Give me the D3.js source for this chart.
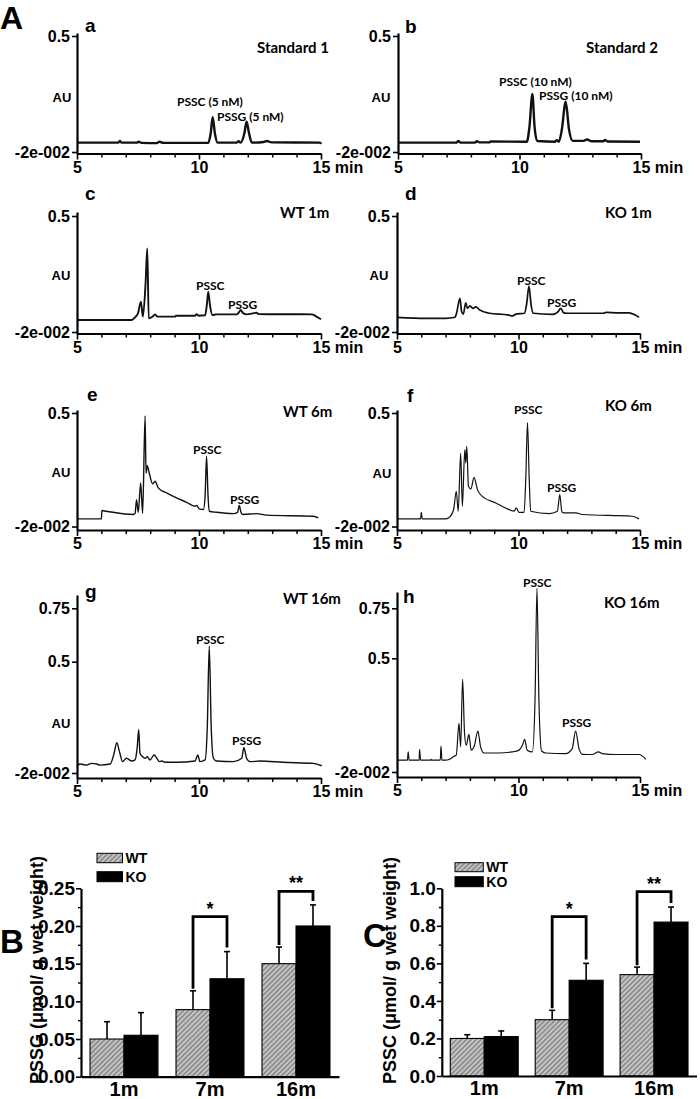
<!DOCTYPE html>
<html>
<head>
<meta charset="utf-8">
<script src="https://cdn.jsdelivr.net/npm/d3@7"></script>
<style>
  body { margin: 0; background: #fff; }
  svg { display: block; }
</style>
</head>
<body>
<div id="fig"></div>
<script>
//Chromatogram traces, [time (min), absorbance (AU)]
const traceA = [[5.0,0.022],[6.69,0.022],[6.76,0.029],[6.83,0.022],[7.45,0.022],[7.52,0.026],[7.65,0.021],[8.27,0.02],[8.38,0.026],[8.54,0.021],[10.38,0.021],[10.48,0.064],[10.56,0.136],[10.65,0.064],[10.76,0.022],[11.54,0.022],[11.62,0.028],[11.7,0.022],[11.86,0.064],[11.95,0.116],[12.05,0.064],[12.17,0.022],[12.64,0.025],[12.78,0.029],[12.98,0.023],[14.96,0.022],[15.0,0.016]];
const traceB = [[5.0,0.022],[7.41,0.022],[7.48,0.029],[7.58,0.022],[8.17,0.022],[8.24,0.028],[8.35,0.023],[8.76,0.023],[8.81,0.027],[10.3,0.026],[10.41,0.093],[10.53,0.24],[10.62,0.093],[10.73,0.029],[11.46,0.026],[11.53,0.033],[11.62,0.026],[11.74,0.079],[11.9,0.205],[12.04,0.079],[12.19,0.03],[12.63,0.03],[12.79,0.036],[12.97,0.028],[13.45,0.028],[13.52,0.034],[13.62,0.027],[14.96,0.026]];
const traceC = [[5.0,0.034],[7.24,0.034],[7.38,0.046],[7.5,0.064],[7.62,0.116],[7.7,0.049],[7.81,0.198],[7.88,0.355],[7.94,0.041],[8.1,0.049],[8.2,0.059],[8.3,0.049],[9.02,0.049],[9.06,0.053],[9.84,0.053],[9.9,0.06],[9.98,0.053],[10.25,0.055],[10.32,0.1],[10.38,0.161],[10.45,0.1],[10.55,0.056],[10.7,0.059],[11.55,0.059],[11.65,0.07],[11.71,0.079],[11.8,0.065],[11.95,0.059],[12.36,0.066],[12.45,0.06],[14.62,0.059],[14.8,0.05],[15.0,0.037]];
const traceD = [[5.0,0.046],[6.2,0.041],[7.0,0.041],[7.39,0.046],[7.45,0.064],[7.59,0.131],[7.66,0.071],[7.73,0.06],[7.83,0.111],[7.9,0.086],[8.0,0.097],[8.13,0.086],[8.24,0.093],[8.4,0.079],[8.8,0.064],[9.6,0.056],[9.75,0.052],[9.9,0.06],[10.25,0.064],[10.34,0.11],[10.43,0.186],[10.52,0.1],[10.6,0.064],[11.4,0.059],[11.62,0.07],[11.74,0.086],[11.86,0.066],[12.0,0.064],[13.5,0.064],[13.6,0.068],[14.1,0.066],[14.55,0.066],[14.8,0.056],[14.96,0.046]];
const traceE = [[5.0,0.015],[6.0,0.015],[6.02,0.053],[6.2,0.05],[7.31,0.035],[7.38,0.04],[7.44,0.103],[7.51,0.045],[7.61,0.18],[7.69,0.04],[7.79,0.487],[7.83,0.225],[7.88,0.259],[7.96,0.225],[8.1,0.176],[8.2,0.187],[8.33,0.157],[8.67,0.134],[9.08,0.111],[9.49,0.091],[9.83,0.073],[9.9,0.076],[10.01,0.061],[10.18,0.058],[10.25,0.12],[10.31,0.301],[10.37,0.12],[10.42,0.05],[10.72,0.045],[11.41,0.039],[11.58,0.045],[11.65,0.076],[11.72,0.045],[11.79,0.035],[12.36,0.039],[12.77,0.032],[14.69,0.027],[14.89,0.02]];
const traceF = [[5.0,0.015],[5.97,0.015],[6.0,0.045],[6.04,0.015],[7.0,0.015],[7.13,0.02],[7.33,0.058],[7.44,0.141],[7.52,0.05],[7.62,0.316],[7.69,0.073],[7.79,0.332],[7.83,0.271],[7.87,0.347],[7.94,0.164],[8.04,0.152],[8.17,0.205],[8.31,0.149],[8.51,0.118],[9.06,0.088],[9.47,0.065],[9.82,0.05],[9.91,0.065],[10.02,0.045],[10.23,0.045],[10.3,0.2],[10.37,0.456],[10.44,0.2],[10.5,0.05],[11.26,0.039],[11.6,0.05],[11.7,0.126],[11.78,0.05],[11.84,0.042],[12.36,0.042],[12.63,0.035],[14.69,0.027],[14.96,0.015]];
const traceG = [[5.0,0.013],[5.12,0.022],[5.4,0.017],[5.6,0.025],[5.81,0.022],[5.94,0.017],[6.36,0.022],[6.52,0.072],[6.63,0.122],[6.74,0.08],[6.87,0.033],[7.03,0.049],[7.24,0.036],[7.38,0.041],[7.47,0.103],[7.53,0.184],[7.58,0.072],[7.69,0.056],[7.79,0.049],[7.88,0.056],[7.99,0.041],[8.16,0.064],[8.27,0.049],[8.38,0.033],[8.47,0.036],[8.61,0.03],[9.09,0.03],[9.84,0.036],[9.95,0.064],[10.04,0.033],[10.25,0.041],[10.34,0.196],[10.42,0.573],[10.5,0.196],[10.59,0.049],[10.72,0.036],[11.41,0.033],[11.75,0.049],[11.84,0.098],[11.95,0.049],[12.09,0.033],[12.5,0.036],[13.46,0.03],[14.69,0.025],[15.03,0.014]];
const traceH = [[5.0,0.034],[5.43,0.034],[5.46,0.072],[5.5,0.034],[5.91,0.034],[5.93,0.084],[5.97,0.034],[6.38,0.034],[6.4,0.038],[6.42,0.034],[6.78,0.034],[6.81,0.098],[6.85,0.034],[7.0,0.034],[7.14,0.037],[7.35,0.052],[7.44,0.057],[7.55,0.202],[7.62,0.095],[7.7,0.404],[7.78,0.156],[7.85,0.102],[7.96,0.152],[8.05,0.08],[8.17,0.095],[8.33,0.167],[8.44,0.095],[8.58,0.067],[9.2,0.067],[9.75,0.072],[10.02,0.08],[10.16,0.102],[10.25,0.129],[10.36,0.08],[10.57,0.072],[10.68,0.308],[10.76,0.85],[10.84,0.308],[10.95,0.076],[11.12,0.067],[11.94,0.064],[12.21,0.087],[12.35,0.167],[12.49,0.087],[12.63,0.061],[13.04,0.06],[13.29,0.072],[13.45,0.064],[14.0,0.06],[14.96,0.06],[15.24,0.038]];

//Axis ticks and labels
const timeMajor = [5, 10, 15];
const timeMinor = [6, 7, 8, 9, 11, 12, 13, 14];
const auTicksLow = [-0.02, 0.5];
const auTicksHigh = [-0.02, 0.5, 0.75];
const panelTitles = ["Standard 1", "Standard 2", "WT 1m", "KO 1m", "WT 6m", "KO 6m", "WT 16m", "KO 16m"];
const peakNames = [
  ["PSSC (5 nM)", "PSSG (5 nM)"], ["PSSC (10 nM)", "PSSG (10 nM)"],
  ["PSSC", "PSSG"], ["PSSC", "PSSG"], ["PSSC", "PSSG"], ["PSSC", "PSSG"], ["PSSC", "PSSG"], ["PSSC", "PSSG"]
];

//Bar chart data
const ages = ["1m", "7m", "16m"];
const groups = ["WT", "KO"];
const pssgWT = [0.05, 0.089, 0.15];
const pssgWTerr = [0.023, 0.025, 0.022];
const pssgKO = [0.055, 0.13, 0.2];
const pssgKOerr = [0.03, 0.036, 0.028];
const pssgBracket = [null, 0.2125, 0.246];
const psscWT = [0.2, 0.3, 0.54];
const psscWTerr = [0.02, 0.05, 0.04];
const psscKO = [0.21, 0.51, 0.82];
const psscKOerr = [0.03, 0.09, 0.08];
const psscBracket = [null, 0.849, 0.982];
const sigMarks = ["", "*", "**"];
const pssgTicks = [0, 0.05, 0.1, 0.15, 0.2, 0.25];
const pssgMinor = [0.025, 0.075, 0.125, 0.175, 0.225];
const psscTicks = [0, 0.2, 0.4, 0.6, 0.8, 1.0];
const psscMinor = [0.1, 0.3, 0.5, 0.7, 0.9];

const fontArial = "'Liberation Sans', Arial, sans-serif";
const fontCal = "Lato, 'Open Sans', sans-serif";

var svg = d3.select("#fig").append("svg").attr("width", 700).attr("height", 1099);

//Hatch used by WT bars
var defs = svg.append("defs");
var pat = defs.append("pattern").attr("id", "hatch")
  .attr("patternUnits", "userSpaceOnUse").attr("width", 3.5).attr("height", 3.5)
  .attr("patternTransform", "rotate(45)");
pat.append("rect").attr("width", 3.5).attr("height", 3.5).attr("fill", "#c6c6c6");
pat.append("line").attr("x1", 0.8).attr("y1", 0).attr("x2", 0.8).attr("y2", 3.5)
  .attr("stroke", "#7a7a7a").attr("stroke-width", 1.3);

function addText(g, txt, x, y, size, font, anchor) {
  return g.append("text").attr("x", x).attr("y", y).text(txt)
    .attr("font-family", font).attr("font-weight", "bold")
    .attr("font-size", size).attr("text-anchor", anchor || "start").attr("fill", "#000");
}

//Layout of the eight chromatograms (pixel anchors for -0.02, 0.5, 0.75)
var rows = [
  { m002: 152, p05: 36, axis: 153.5, top: 33 },
  { m002: 332, p05: 216, axis: 333.5, top: 212 },
  { m002: 526.5, p05: 413, axis: 530, top: 410 },
  { m002: 773, p05: 661.7, p075: 608.3, axis: 778, top: 595 },
  { m002: 772, p05: 658.3, p075: 608.3, axis: 777, top: 592 }
];
var chromPanels = [
  { data: traceA, row: rows[0], left: 77, right: 321, ticks: auTicksLow, letter: "a", lp: [85, 32], tp: [257, 52.5], au: [62, 102], pk: [[177, 106], [217, 121]], sw: 2.4 },
  { data: traceB, row: rows[0], left: 398, right: 641, ticks: auTicksLow, letter: "b", lp: [405, 32.5], tp: [586, 52.5], au: [381, 102], pk: [[499, 86], [539, 100]], sw: 2.4 },
  { data: traceC, row: rows[1], left: 77, right: 321, ticks: auTicksLow, letter: "c", lp: [85, 200], tp: [280, 217.5], au: [61, 280], pk: [[196, 290], [228, 309]], sw: 1.9 },
  { data: traceD, row: rows[1], left: 397, right: 640, ticks: auTicksLow, letter: "d", lp: [405, 200], tp: [605, 217.5], au: [379, 280], pk: [[517, 285], [547, 307]], sw: 1.7 },
  { data: traceE, row: rows[2], left: 77, right: 321, ticks: auTicksLow, letter: "e", lp: [87, 400.7], tp: [283, 417], au: [61, 477], pk: [[193, 454], [230, 504]], sw: 1.4 },
  { data: traceF, row: rows[2], left: 397, right: 640, ticks: auTicksLow, letter: "f", lp: [407, 401.7], tp: [605, 410.5], au: [382, 478], pk: [[514, 414], [547, 492]], sw: 1.2 },
  { data: traceG, row: rows[3], left: 77, right: 321, ticks: auTicksHigh, letter: "g", lp: [85, 598.3], tp: [283, 603.5], au: [61, 728], pk: [[196, 644], [232, 745]], sw: 1.4 },
  { data: traceH, row: rows[4], left: 397, right: 640, ticks: auTicksHigh, letter: "h", lp: [403, 603.3], tp: [604, 607.5], au: null, pk: [[523, 587], [562, 727]], sw: 1.2 }
];

function auScale(r) {
  //Anchor the scale on the tick marks, then stretch it to the axis ends
  var dom = [-0.02, 0.5], rng = [r.m002, r.p05];
  if (r.p075 !== undefined) { dom.push(0.75); rng.push(r.p075); }
  var lo = d3.scaleLinear().domain([-0.02, 0.5]).range([r.m002, r.p05]);
  var hi = d3.scaleLinear().domain(dom.slice(-2)).range(rng.slice(-2));
  dom.unshift(lo.invert(r.axis)); rng.unshift(r.axis);
  dom.push(hi.invert(r.top)); rng.push(r.top);
  return d3.scaleLinear().domain(dom).range(rng);
}

function styleAxis(sel, size) {
  sel.select(".domain").attr("stroke-width", 2.2);
  sel.selectAll(".tick line").attr("stroke-width", 1.6);
  sel.selectAll("text").attr("font-family", fontArial).attr("font-weight", "bold")
    .attr("font-size", size).attr("fill", "#000");
}

function drawChrom(p, i) {
  var g = svg.append("g").attr("id", "chrom_" + p.letter);
  var x = d3.scaleLinear().domain([5, 15]).range([p.left, p.right]);
  var y = auScale(p.row);

  //Trace
  var line = d3.line().x(d => x(d[0])).y(d => y(d[1])).curve(d3.curveMonotoneX);
  g.append("path").datum(p.data).attr("d", line)
    .attr("fill", "none").attr("stroke", "#111").attr("stroke-width", p.sw)
    .attr("stroke-linejoin", "round");

  //Minor time ticks
  var minor = g.append("g").attr("transform", "translate(0," + p.row.axis + ")")
    .call(d3.axisBottom(x).tickValues(timeMinor).tickSize(4).tickFormat(""));
  minor.select(".domain").remove();
  minor.selectAll(".tick line").attr("stroke-width", 1.5);

  //Major time ticks
  var xa = g.append("g").attr("transform", "translate(0," + p.row.axis + ")")
    .call(d3.axisBottom(x).tickValues(timeMajor).tickSize(6).tickSizeOuter(0).tickPadding(2)
      .tickFormat(d => d === 15 ? "15 min" : d));
  styleAxis(xa, 16);
  xa.selectAll(".tick text").filter(d => d === 15).attr("text-anchor", "start").attr("x", -9);

  //AU axis
  var ya = g.append("g").attr("transform", "translate(" + p.left + ",0)")
    .call(d3.axisLeft(y).tickValues(p.ticks).tickSize(5).tickSizeOuter(0).tickPadding(2)
      .tickFormat(d => d === -0.02 ? "-2e-002" : d));
  styleAxis(ya, 16);

  addText(g, p.letter, p.lp[0], p.lp[1], 19, fontArial);
  addText(g, panelTitles[i], p.tp[0], p.tp[1], 15, fontCal);
  if (p.au) addText(g, "AU", p.au[0], p.au[1], 13, fontArial, "middle");
  peakNames[i].forEach(function (nm, k) {
    addText(g, nm, p.pk[k][0], p.pk[k][1], 12, fontCal);
  });
}
chromPanels.forEach(drawChrom);

//Bar charts ---------
var barPanels = [
  { left: 81, right: 339, padIn: 0.21, padOut: 0.105, bottom: 1076.7, top: 888.3, yMax: 0.25,
    ticks: pssgTicks, minor: pssgMinor, fmt: d3.format(".2f"),
    values: [pssgWT, pssgKO], errors: [pssgWTerr, pssgKOerr], bracket: pssgBracket,
    title: "PSSG (\u03bcmol/ g wet weight)", titleX: 43, letter: "B", letterPos: [0, 953],
    legend: { x: 97, w: 25.5, y: [853.3, 871.7], h: [9.4, 10] } },
  { left: 441.8, right: 696.5, padIn: 0.2, padOut: 0.1, bottom: 1076, top: 888.3, yMax: 1.0,
    ticks: psscTicks, minor: psscMinor, fmt: d3.format(".1f"),
    values: [psscWT, psscKO], errors: [psscWTerr, psscKOerr], bracket: psscBracket,
    title: "PSSC (\u03bcmol/ g wet weight)", titleX: 396, letter: "C", letterPos: [363, 947],
    legend: { x: 455, w: 28.3, y: [862.7, 876.7], h: [9, 10] } }
];

function drawBars(p) {
  var g = svg.append("g");
  var x = d3.scaleBand().domain(ages).range([p.left, p.right]).paddingInner(p.padIn).paddingOuter(p.padOut);
  var xs = d3.scaleBand().domain(groups).range([0, x.bandwidth()]);
  var y = d3.scaleLinear().domain([0, p.yMax]).range([p.bottom, p.top]);
  var cx = (age, grp) => x(age) + xs(grp) + xs.bandwidth() / 2;

  groups.forEach(function (grp, gi) {
    var vals = p.values[gi], errs = p.errors[gi];
    //Error bars (upper only)
    var eb = g.append("g").selectAll("g").data(ages).join("g");
    eb.append("line").attr("x1", d => cx(d, grp)).attr("x2", d => cx(d, grp))
      .attr("y1", (d, i) => y(vals[i])).attr("y2", (d, i) => y(vals[i] + errs[i]))
      .attr("stroke", "#000").attr("stroke-width", 1.6);
    eb.append("line").attr("x1", d => cx(d, grp) - 3).attr("x2", d => cx(d, grp) + 3)
      .attr("y1", (d, i) => y(vals[i] + errs[i])).attr("y2", (d, i) => y(vals[i] + errs[i]))
      .attr("stroke", "#000").attr("stroke-width", 1.6);
    //Bars
    g.append("g").selectAll("rect").data(ages).join("rect")
      .attr("x", d => x(d) + xs(grp))
      .attr("y", (d, i) => y(vals[i]))
      .attr("width", xs.bandwidth())
      .attr("height", (d, i) => y(0) - y(vals[i]))
      .attr("fill", grp === "WT" ? "url(#hatch)" : "#000")
      .attr("stroke", "#000").attr("stroke-width", 1.1);
  });

  //Significance brackets
  ages.forEach(function (age, i) {
    if (!p.bracket[i]) return;
    var lx = cx(age, "WT"), rx = cx(age, "KO");
    var ly = y(p.values[0][i] + p.errors[0][i]) - 2;
    var ry = y(p.values[1][i] + p.errors[1][i]) - 4;
    var ty = y(p.bracket[i]);
    g.append("path").attr("d", "M" + lx + "," + ly + "V" + ty + "H" + rx + "V" + ry)
      .attr("fill", "none").attr("stroke", "#000").attr("stroke-width", 2.8);
    addText(g, sigMarks[i], (lx + rx) / 2, ty - 2, 18, fontArial, "middle");
  });

  //Y axis
  var ym = g.append("g").attr("transform", "translate(" + p.left + ",0)")
    .call(d3.axisLeft(y).tickValues(p.minor).tickSize(3).tickFormat(""));
  ym.select(".domain").remove();
  ym.selectAll(".tick line").attr("stroke-width", 1.4);
  var ya = g.append("g").attr("transform", "translate(" + p.left + ",0)")
    .call(d3.axisLeft(y).tickValues(p.ticks).tickSize(5).tickSizeOuter(0).tickPadding(1).tickFormat(p.fmt));
  styleAxis(ya, 19);

  //X axis
  var xa = g.append("g").attr("transform", "translate(0," + p.bottom + ")")
    .call(d3.axisBottom(x).tickSize(0).tickSizeOuter(0).tickPadding(5));
  styleAxis(xa, 20);

  //Axis title
  g.append("text").attr("transform", "translate(" + p.titleX + ",1084) rotate(-90)")
    .text(p.title).attr("font-family", fontArial).attr("font-weight", "bold")
    .attr("font-size", 18);

  //Legend
  groups.forEach(function (grp, gi) {
    g.append("rect").attr("x", p.legend.x).attr("y", p.legend.y[gi])
      .attr("width", p.legend.w).attr("height", p.legend.h[gi])
      .attr("fill", grp === "WT" ? "url(#hatch)" : "#000")
      .attr("stroke", "#000").attr("stroke-width", 1);
    addText(g, grp, p.legend.x + p.legend.w + 3, p.legend.y[gi] + p.legend.h[gi] / 2 + 5, 14, fontArial);
  });

  addText(g, p.letter, p.letterPos[0], p.letterPos[1], 33, fontArial);
}
barPanels.forEach(drawBars);

addText(svg, "A", 0, 29, 32, fontArial);
</script>
</body>
</html>
